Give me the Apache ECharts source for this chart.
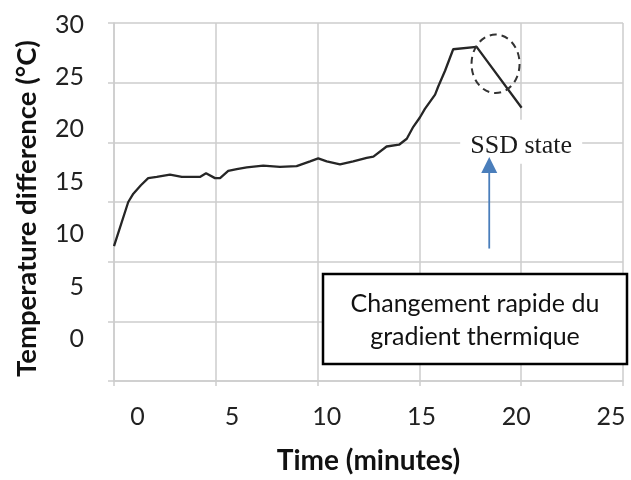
<!DOCTYPE html>
<html>
<head>
<meta charset="utf-8">
<script src="https://cdn.jsdelivr.net/npm/echarts@6/dist/echarts.min.js"></script>
<style>
html,body{margin:0;padding:0;background:#fff;}
#chart{width:631px;height:480px;}
</style>
</head>
<body>
<div id="chart"></div>
<script>
// ---- data (time in minutes, temperature difference in °C, read against the gridlines) ----
var timeValues = [0, 0.70, 0.95, 1.32, 1.68, 2.10, 2.75, 3.33, 4.22, 4.52, 4.96, 5.21, 5.61, 6.03, 6.52, 7.33, 8.15, 8.97, 9.63, 10.03, 10.45, 11.10, 11.75, 12.41, 12.74, 13.39, 14.00, 14.38, 14.70, 15.03, 15.27, 15.77, 15.93, 16.26, 16.66, 17.81, 20.02];
var tempValues = [11.3, 15.0, 15.7, 16.4, 17.0, 17.1, 17.3, 17.1, 17.1, 17.4, 17.0, 17.0, 17.6, 17.75, 17.9, 18.05, 17.95, 18.0, 18.4, 18.65, 18.4, 18.15, 18.4, 18.7, 18.8, 19.65, 19.8, 20.3, 21.3, 22.1, 22.8, 24.0, 24.7, 26.0, 27.8, 28.0, 22.9];
var xTickLabels = [0, 5, 10, 15, 20, 25];
var yTickLabels = [0, 5, 10, 15, 20, 25, 30];
var xTitle = 'Time (minutes)';
var yTitle = 'Temperature difference (°C)';
var noteText = 'Changement rapide du\ngradient thermique';
var stateText = 'SSD state';

var seriesData = timeValues.map(function (t, i) { return [t, tempValues[i]]; });

var chart = echarts.init(document.getElementById('chart'), null, {renderer: 'canvas'});
var gridColor = '#cdcdcd';
var labelFont = 'Lato';

var option = {
  backgroundColor: '#ffffff',
  animation: false,
  grid: {left: 114, top: 23, right: 8, bottom: 89, containLabel: false},
  xAxis: [
    {
      type: 'value', min: 0, max: 25, interval: 5,
      axisLine: {show: true, lineStyle: {color: gridColor, width: 1.5}},
      axisTick: {show: true, length: 5, lineStyle: {color: gridColor, width: 1.5}},
      axisLabel: {show: false},
      splitLine: {show: true, lineStyle: {color: gridColor, width: 1.5}}
    },
    {
      type: 'value', position: 'bottom', min: -1.235, max: 25.64,
      axisLine: {show: false}, axisTick: {show: false}, splitLine: {show: false},
      axisLabel: {show: true, customValues: xTickLabels, margin: 23,
        color: '#222', fontFamily: labelFont, fontSize: 25},
      name: xTitle, nameLocation: 'middle', nameGap: 66,
      nameTextStyle: {color: '#111', fontFamily: labelFont, fontWeight: 'bold', fontSize: 28}
    }
  ],
  yAxis: [
    {
      type: 'value', min: 0, max: 30, interval: 5,
      axisLine: {show: true, lineStyle: {color: gridColor, width: 1.5}},
      axisTick: {show: true, length: 6, lineStyle: {color: gridColor, width: 1.5}},
      axisLabel: {show: false},
      splitLine: {show: true, lineStyle: {color: gridColor, width: 1.5}}
    },
    {
      type: 'value', position: 'left', min: -4.02, max: 30.15,
      axisLine: {show: false}, axisTick: {show: false}, splitLine: {show: false},
      axisLabel: {show: true, customValues: yTickLabels, margin: 30,
        color: '#222', fontFamily: labelFont, fontSize: 25},
      name: yTitle, nameLocation: 'middle', nameGap: 73, nameRotate: 90,
      nameTextStyle: {color: '#111', fontFamily: labelFont, fontWeight: 'bold', fontSize: 27.5,
        padding: [0, 13, 0, 0]}
    }
  ],
  series: [
    {
      type: 'line', xAxisIndex: 0, yAxisIndex: 0, data: seriesData,
      showSymbol: false, symbol: 'none', smooth: false,
      lineStyle: {color: '#262626', width: 2.3}
    }
  ]
};
chart.setOption(option);

function px(t, v) { return chart.convertToPixel({xAxisIndex: 0, yAxisIndex: 0}, [t, v]); }

// annotation anchors in data coordinates
var ellC = px(18.74, 26.58), ellE = px(19.92, 24.13);
var arrowBottom = px(18.43, 11.1), arrowTip = px(18.43, 18.77);
var stateC = px(20.0, 19.8);

var graphics = [
  {
    type: 'ellipse', z: 10,
    shape: {cx: ellC[0], cy: ellC[1], rx: ellE[0] - ellC[0], ry: ellE[1] - ellC[1]},
    style: {fill: 'none', stroke: '#333', lineWidth: 2, lineDash: [7, 5]}
  },
  {
    type: 'rect', z: 10,
    shape: {x: stateC[0] - 61, y: stateC[1] - 25, width: 122, height: 44},
    style: {fill: '#ffffff'}
  },
  {
    type: 'text', z: 11, x: stateC[0], y: stateC[1] + 1,
    style: {text: stateText, font: '26px "Liberation Serif", "Times New Roman", serif',
      fill: '#1a1a1a', align: 'center', verticalAlign: 'middle'}
  },
  {
    type: 'line', z: 11,
    shape: {x1: arrowBottom[0], y1: arrowBottom[1], x2: arrowTip[0], y2: arrowTip[1] + 14},
    style: {stroke: '#4a7ebb', lineWidth: 1.8}
  },
  {
    type: 'polygon', z: 11,
    shape: {points: [[arrowTip[0], arrowTip[1]], [arrowTip[0] - 8, arrowTip[1] + 16], [arrowTip[0] + 8, arrowTip[1] + 16]]},
    style: {fill: '#4a7ebb'}
  },
  {
    type: 'rect', z: 12,
    shape: {x: 323, y: 274, width: 304, height: 90},
    style: {fill: '#ffffff', stroke: '#000', lineWidth: 2.5}
  },
  {
    type: 'text', z: 13, x: 475, y: 320,
    style: {text: noteText, font: '25px Lato', fill: '#111', align: 'center',
      verticalAlign: 'middle', lineHeight: 33}
  }
];
chart.setOption({graphic: graphics});
</script>
</body>
</html>
